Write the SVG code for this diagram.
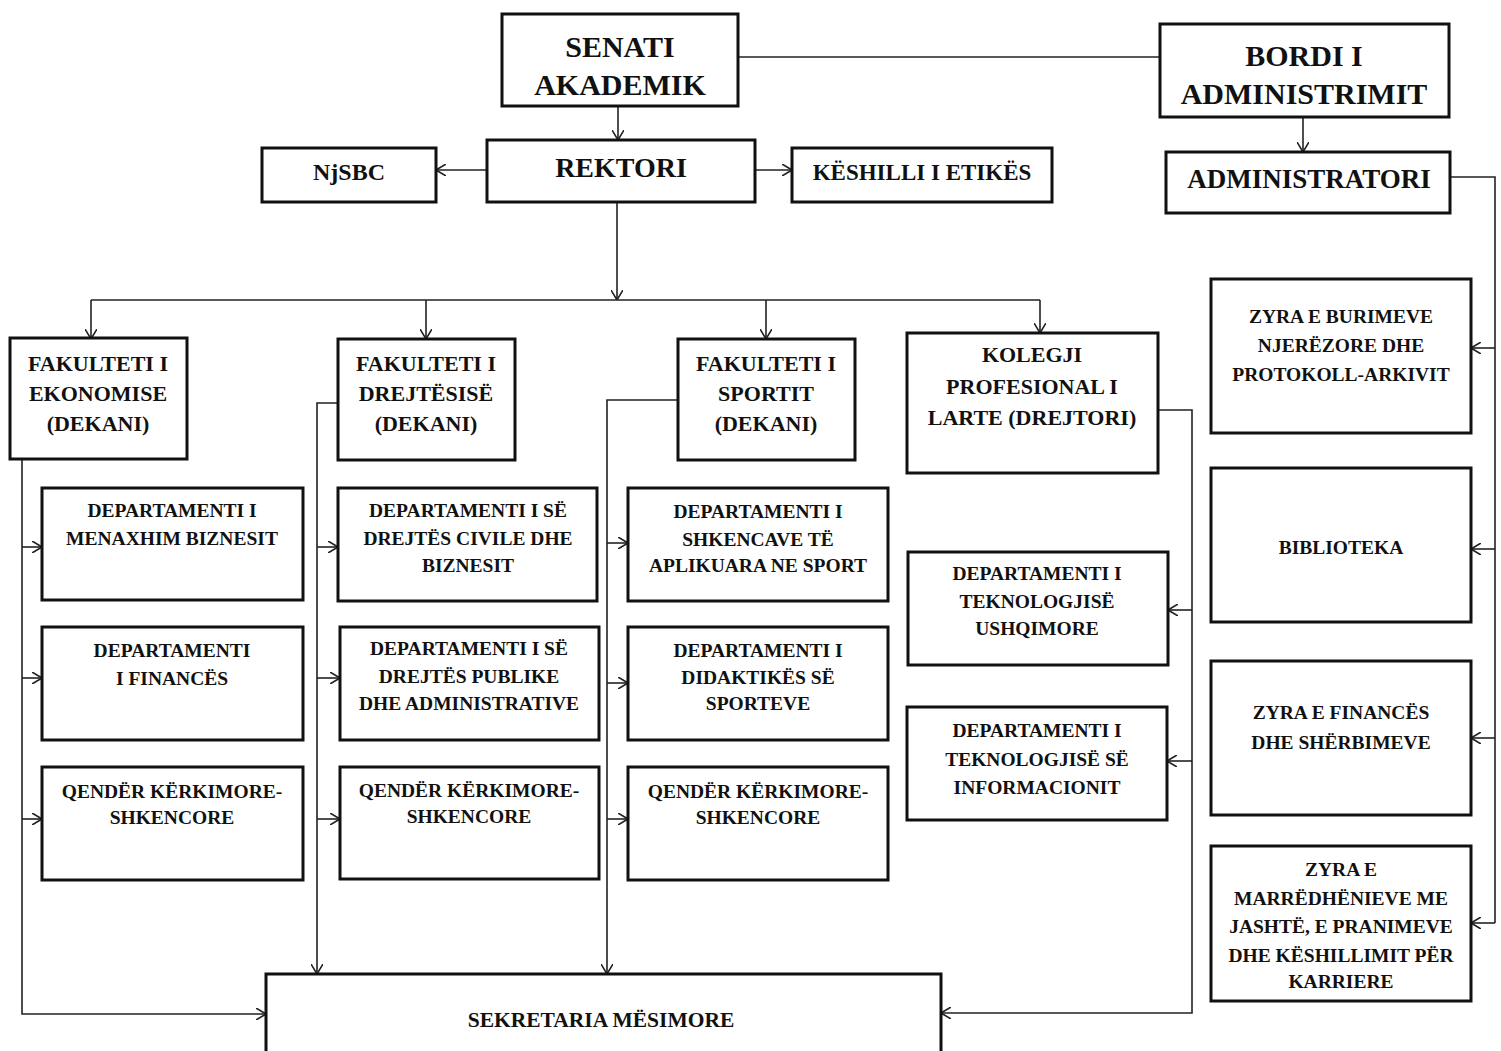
<svg xmlns="http://www.w3.org/2000/svg" width="1501" height="1051" viewBox="0 0 1501 1051">
<defs>
<style>
.box{fill:#fff;stroke:#111;stroke-width:3}
.ln{fill:none;stroke:#222;stroke-width:1.6}
.ar{fill:none;stroke:#222;stroke-width:1.6;marker-end:url(#ah)}
text{font-family:"Liberation Serif","Times New Roman",serif;font-weight:bold;text-anchor:middle;fill:#111}
.t30{font-size:30px}.t28{font-size:28px}.t27{font-size:27px}.t24{font-size:24px}.t23{font-size:23px}
.t22{font-size:22px}.t21{font-size:21.5px}.t20{font-size:19.5px}
</style>
<marker id="ah" viewBox="0 0 10 12" refX="10" refY="6" markerWidth="10" markerHeight="12" markerUnits="userSpaceOnUse" orient="auto">
<path d="M0,0 L10,6 L0,12" fill="none" stroke="#222" stroke-width="1.6"/>
</marker>
</defs>
<rect width="1501" height="1051" fill="#fff"/>

<g id="connectors">
<path class="ln" d="M738,57 H1160"/>
<path class="ar" d="M618,106 V140"/>
<path class="ar" d="M1303,117 V152"/>
<path class="ar" d="M487,170 H436"/>
<path class="ar" d="M755,170 H792"/>
<path class="ar" d="M617,202 V300"/>
<path class="ln" d="M91,300 H1040"/>
<path class="ar" d="M91,300 V339"/>
<path class="ar" d="M426,300 V339"/>
<path class="ar" d="M766,300 V339"/>
<path class="ar" d="M1040,300 V333"/>
<!-- col1 -->
<path class="ar" d="M22,459 V1014 H266"/>
<path class="ar" d="M22,547 H42"/>
<path class="ar" d="M22,678 H42"/>
<path class="ar" d="M22,819 H42"/>
<!-- col2 -->
<path class="ar" d="M338,403 H317 V974"/>
<path class="ar" d="M317,547 H338"/>
<path class="ar" d="M317,678 H340"/>
<path class="ar" d="M317,819 H340"/>
<!-- col3 -->
<path class="ar" d="M678,400 H607 V974"/>
<path class="ar" d="M607,543 H628"/>
<path class="ar" d="M607,683 H628"/>
<path class="ar" d="M607,819 H628"/>
<!-- col4 -->
<path class="ar" d="M1158,410 H1192 V1013 H941"/>
<path class="ar" d="M1192,610 H1168"/>
<path class="ar" d="M1192,761 H1167"/>
<!-- right -->
<path class="ln" d="M1450,177 H1495 V923"/>
<path class="ar" d="M1495,348 H1471"/>
<path class="ar" d="M1495,549 H1471"/>
<path class="ar" d="M1495,738 H1471"/>
<path class="ar" d="M1495,923 H1471"/>
</g>

<g id="senati"><rect class="box" x="502" y="14" width="236" height="92"/>
<text class="t30" x="620" y="57">SENATI</text><text class="t30" x="620" y="95">AKADEMIK</text></g>
<g id="bordi"><rect class="box" x="1160" y="24" width="289" height="93"/>
<text class="t30" x="1304" y="66">BORDI I</text><text class="t30" x="1304" y="104">ADMINISTRIMIT</text></g>
<g id="rektori"><rect class="box" x="487" y="140" width="268" height="62"/>
<text class="t28" x="621" y="177">REKTORI</text></g>
<g id="njsbc"><rect class="box" x="262" y="148" width="174" height="54"/>
<text class="t24" x="349" y="180">NjSBC</text></g>
<g id="keshilli"><rect class="box" x="792" y="148" width="260" height="54"/>
<text class="t23" x="922" y="180">KËSHILLI I ETIKËS</text></g>
<g id="administratori"><rect class="box" x="1166" y="152" width="284" height="61"/>
<text class="t27" x="1309" y="188">ADMINISTRATORI</text></g>

<g id="fak-ekonomise"><rect class="box" x="10" y="338" width="177" height="121"/>
<text class="t22" x="98" y="371">FAKULTETI I</text><text class="t22" x="98" y="401">EKONOMISE</text><text class="t22" x="98" y="431">(DEKANI)</text></g>
<g id="fak-drejtesise"><rect class="box" x="338" y="339" width="177" height="121"/>
<text class="t22" x="426" y="371">FAKULTETI I</text><text class="t22" x="426" y="401">DREJTËSISË</text><text class="t22" x="426" y="431">(DEKANI)</text></g>
<g id="fak-sportit"><rect class="box" x="678" y="339" width="177" height="121"/>
<text class="t22" x="766" y="371">FAKULTETI I</text><text class="t22" x="766" y="401">SPORTIT</text><text class="t22" x="766" y="431">(DEKANI)</text></g>
<g id="kolegji"><rect class="box" x="907" y="333" width="251" height="140"/>
<text class="t22" x="1032" y="362">KOLEGJI</text><text class="t22" x="1032" y="394">PROFESIONAL I</text><text class="t22" x="1032" y="425">LARTE (DREJTORI)</text></g>

<g id="dep-menaxhim"><rect class="box" x="42" y="488" width="261" height="112"/>
<text class="t20" x="172" y="517">DEPARTAMENTI I</text><text class="t20" x="172" y="545">MENAXHIM BIZNESIT</text></g>
<g id="dep-finances"><rect class="box" x="42" y="627" width="261" height="113"/>
<text class="t20" x="172" y="657">DEPARTAMENTI</text><text class="t20" x="172" y="685">I FINANCËS</text></g>
<g id="qender-1"><rect class="box" x="42" y="767" width="261" height="113"/>
<text class="t20" x="172" y="798">QENDËR KËRKIMORE-</text><text class="t20" x="172" y="824">SHKENCORE</text></g>

<g id="dep-civile"><rect class="box" x="338" y="488" width="259" height="113"/>
<text class="t20" x="468" y="517">DEPARTAMENTI I SË</text><text class="t20" x="468" y="545">DREJTËS CIVILE DHE</text><text class="t20" x="468" y="572">BIZNESIT</text></g>
<g id="dep-publike"><rect class="box" x="340" y="627" width="259" height="113"/>
<text class="t20" x="469" y="655">DEPARTAMENTI I SË</text><text class="t20" x="469" y="683">DREJTËS PUBLIKE</text><text class="t20" x="469" y="710">DHE ADMINISTRATIVE</text></g>
<g id="qender-2"><rect class="box" x="340" y="767" width="259" height="112"/>
<text class="t20" x="469" y="797">QENDËR KËRKIMORE-</text><text class="t20" x="469" y="823">SHKENCORE</text></g>

<g id="dep-shkencave"><rect class="box" x="628" y="488" width="260" height="113"/>
<text class="t20" x="758" y="518">DEPARTAMENTI I</text><text class="t20" x="758" y="546">SHKENCAVE TË</text><text class="t20" x="758" y="572">APLIKUARA NE SPORT</text></g>
<g id="dep-didaktikes"><rect class="box" x="628" y="627" width="260" height="113"/>
<text class="t20" x="758" y="657">DEPARTAMENTI I</text><text class="t20" x="758" y="684">DIDAKTIKËS SË</text><text class="t20" x="758" y="710">SPORTEVE</text></g>
<g id="qender-3"><rect class="box" x="628" y="767" width="260" height="113"/>
<text class="t20" x="758" y="798">QENDËR KËRKIMORE-</text><text class="t20" x="758" y="824">SHKENCORE</text></g>

<g id="dep-ushqimore"><rect class="box" x="908" y="552" width="260" height="113"/>
<text class="t20" x="1037" y="580">DEPARTAMENTI I</text><text class="t20" x="1037" y="608">TEKNOLOGJISË</text><text class="t20" x="1037" y="635">USHQIMORE</text></g>
<g id="dep-informacionit"><rect class="box" x="907" y="707" width="260" height="113"/>
<text class="t20" x="1037" y="737">DEPARTAMENTI I</text><text class="t20" x="1037" y="766">TEKNOLOGJISË SË</text><text class="t20" x="1037" y="794">INFORMACIONIT</text></g>

<g id="zyra-burimeve"><rect class="box" x="1211" y="279" width="260" height="154"/>
<text class="t20" x="1341" y="323">ZYRA E BURIMEVE</text><text class="t20" x="1341" y="352">NJERËZORE DHE</text><text class="t20" x="1341" y="381">PROTOKOLL-ARKIVIT</text></g>
<g id="biblioteka"><rect class="box" x="1211" y="468" width="260" height="154"/>
<text class="t20" x="1341" y="554">BIBLIOTEKA</text></g>
<g id="zyra-finances"><rect class="box" x="1211" y="661" width="260" height="154"/>
<text class="t20" x="1341" y="719">ZYRA E FINANCËS</text><text class="t20" x="1341" y="749">DHE SHËRBIMEVE</text></g>
<g id="zyra-marredhenieve"><rect class="box" x="1211" y="846" width="260" height="155"/>
<text class="t20" x="1341" y="876">ZYRA E</text><text class="t20" x="1341" y="905">MARRËDHËNIEVE ME</text><text class="t20" x="1341" y="933">JASHTË, E PRANIMEVE</text><text class="t20" x="1341" y="962">DHE KËSHILLIMIT PËR</text><text class="t20" x="1341" y="988">KARRIERE</text></g>

<g id="sekretaria"><rect class="box" x="266" y="974" width="675" height="90"/>
<text class="t21" x="601" y="1027">SEKRETARIA MËSIMORE</text></g>
</svg>
